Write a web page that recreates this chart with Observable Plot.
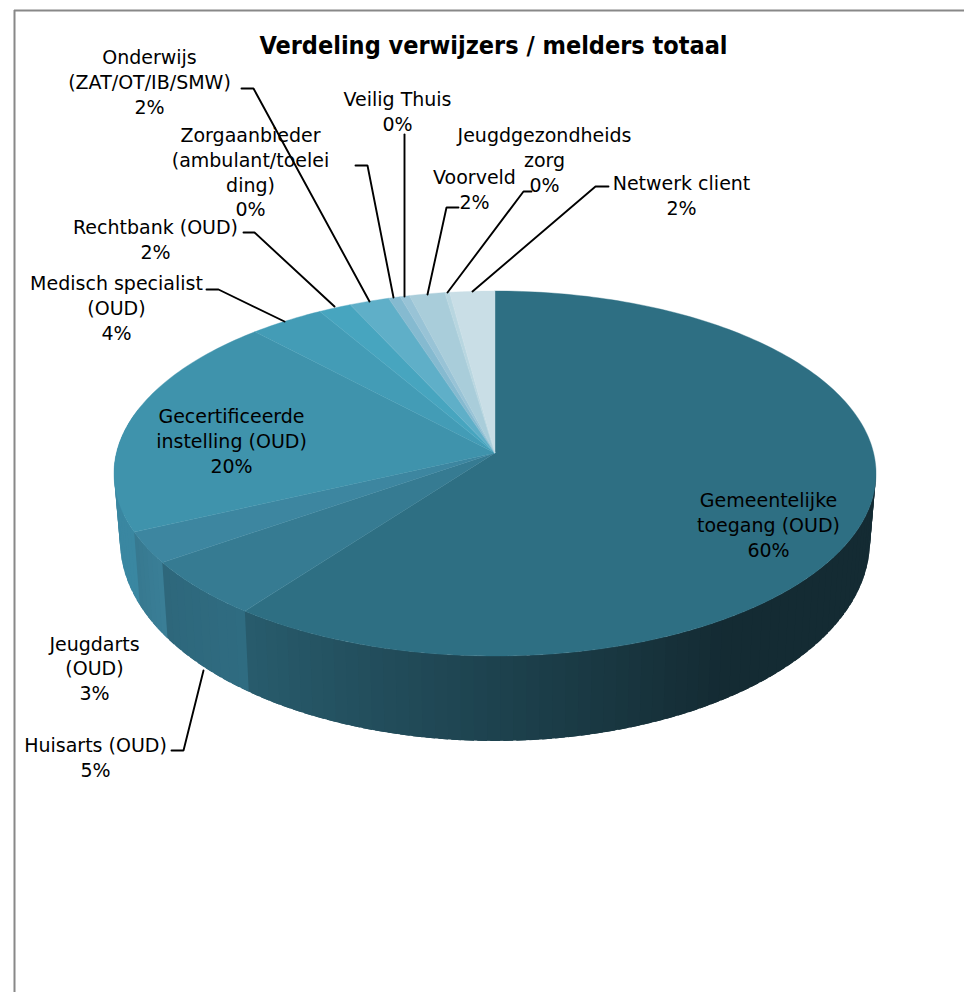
<!DOCTYPE html>
<html><head><meta charset="utf-8">
<style>html,body{margin:0;padding:0;background:#fff}svg{display:block}</style>
<script src="https://cdn.jsdelivr.net/npm/d3@7"></script>
<script src="https://cdn.jsdelivr.net/npm/@observablehq/plot@0.6"></script>
</head><body><div id="chart"></div>
<script>
const chartTitle = "Verdeling verwijzers / melders totaal";
const categories = ["Gemeentelijke\ntoegang (OUD)","Huisarts (OUD)","Jeugdarts\n(OUD)","Gecertificeerde\ninstelling (OUD)","Medisch specialist\n(OUD)","Rechtbank (OUD)","Onderwijs\n(ZAT/OT/IB/SMW)","Zorgaanbieder\n(ambulant/toelei\nding)","Veilig Thuis","Voorveld","Jeugdgezondheids\nzorg","Netwerk client"];
const percentLabels = [60,5,3,20,4,2,2,0,0,2,0,2];
// rim share of each slice as drawn in the (perspective-distorted) picture
const rimShares = [61.4,5.5,2.9,19.35,3.25,1.4,1.7,0.5,0.4,1.5,0.2,1.9];
const topColors = ["#2e6f83","#367b92","#3d86a0","#3f93ac","#439cb6","#47a5bf","#5fafc8","#85bad0","#98c3d6","#a9cdda","#b8d6e0","#c9dee6"];
const wallStart = ["#142b33","#2f6c81","#3a7e97","#3a87a1","#3a87a1","#3a87a1","#3a87a1","#3a87a1","#3a87a1","#3a87a1","#3a87a1","#3a87a1"];
const wallEnd   = ["#285c6d","#2e677b","#37798f","#3a87a1","#3a87a1","#3a87a1","#3a87a1","#3a87a1","#3a87a1","#3a87a1","#3a87a1","#3a87a1"];

// layout of the projected pie (picture units)
const W = 964, H = 992;
const apex = {x:495, y:453};
const topRim = {cx:495, cy:473.5, rx:381, ry:182.5};
const botRim = {cx:495, cy:541, rx:375, ry:200};
const rimPt = (e,t) => ({x:e.cx + e.rx*Math.sin(t), y:e.cy - e.ry*Math.cos(t)});

// label block centres and leader polylines, by category index
const labelAt = [[768,525],[95,757.5],[94,668.5],[231,441],[116,308],[155,239.5],[149,82],[250,172.5],[397,111.5],[474,189.5],[544,160],[681,195.5]];
const leaders = [
  [[171,750],[183,750],[203,670]],
  [[206,289],[218,289],[284,321]],
  [[243,232],[254,232],[334,306]],
  [[241,88],[253,88],[369,301]],
  [[355,165],[367,165],[393,297]],
  [[404,134],[404,296]],
  [[458,207],[446,207],[427,294]],
  [[531,191],[523,191],[447,292]],
  [[608,186],[595,186],[472,291]]
];

const arcs = d3.pie().sort(null).value(d=>d)(rimShares);
const step = Math.PI/180;
const wallRows = [], topRows = [];
arcs.forEach((a,i)=>{
  const span = a.endAngle-a.startAngle;
  const n = Math.max(2, Math.ceil(span/step));
  for(let k=0;k<=n;k++){
    const p = rimPt(topRim,a.startAngle+span*k/n);
    topRows.push({z:i, x1:apex.x, y1:apex.y, x2:p.x, y2:p.y, fill:topColors[i]});
  }
  const m = Math.max(2, Math.ceil(span/(step*2)));
  for(let k=0;k<m;k++){
    const t0 = a.startAngle+span*k/m;
    const t1 = a.startAngle+span*(k+1)/m;
    if(t1 < Math.PI/2-0.04 || t0 > Math.PI*1.5+0.3) continue;
    const frac = (k+0.5)/m;
    const v = i===0 ? Math.max(0,(frac-0.65)/0.35) : frac;
    const fill = d3.interpolateRgb(wallStart[i],wallEnd[i])(v);
    // each strip runs on under its successor so that no seam shows
    [t0,t1+step*1.5].forEach(t=>{
      const a1 = rimPt(topRim,t), b1 = rimPt(botRim,t);
      wallRows.push({z:i+"-"+k, x1:a1.x,y1:a1.y,x2:b1.x,y2:b1.y, fill});
    });
  }
});
const leaderRows = leaders.flatMap((l,i)=>l.map(p=>({z:i,x:p[0],y:p[1]})));
const labels = categories.map((c,i)=>({text:c+"\n"+percentLabels[i]+"%", x:labelAt[i][0], y:labelAt[i][1]}));
const font = "'DejaVu Sans',sans-serif";
const titleFont = "'DejaVu Sans Condensed','DejaVu Sans',sans-serif";

const plot = Plot.plot({
  width:W, height:H, margin:0,
  x:{domain:[0,W],range:[0,W],axis:null},
  y:{domain:[0,H],range:[0,H],axis:null},
  color:{type:"identity"},
  marks:[
    Plot.ruleY([10],{x1:14,x2:W,stroke:"#888888",strokeWidth:2}),
    Plot.ruleX([14],{y1:10,y2:H,stroke:"#888888",strokeWidth:2}),
    Plot.area(wallRows,{x1:"x1",y1:"y1",x2:"x2",y2:"y2",z:"z",fill:"fill",curve:"linear"}),
    Plot.area(topRows,{x1:"x1",y1:"y1",x2:"x2",y2:"y2",z:"z",fill:"fill",stroke:"fill",strokeWidth:0.4,curve:"linear"}),
    Plot.line(leaderRows,{x:"x",y:"y",z:"z",stroke:"#000",strokeWidth:1.9,curve:"linear",strokeLinejoin:"miter"}),
    Plot.text(labels,{x:"x",y:"y",dy:-1.5,text:"text",fill:"#000",fontSize:19,lineHeight:1.3,textAnchor:"middle",lineAnchor:"middle",fontFamily:font}),
    Plot.text([chartTitle],{x:[493],y:[46],dy:-1,text:d=>d,fill:"#000",fontSize:25,fontWeight:"bold",textAnchor:"middle",lineAnchor:"middle",fontFamily:titleFont})
  ]
});
document.getElementById("chart").append(plot);
</script></body></html>
